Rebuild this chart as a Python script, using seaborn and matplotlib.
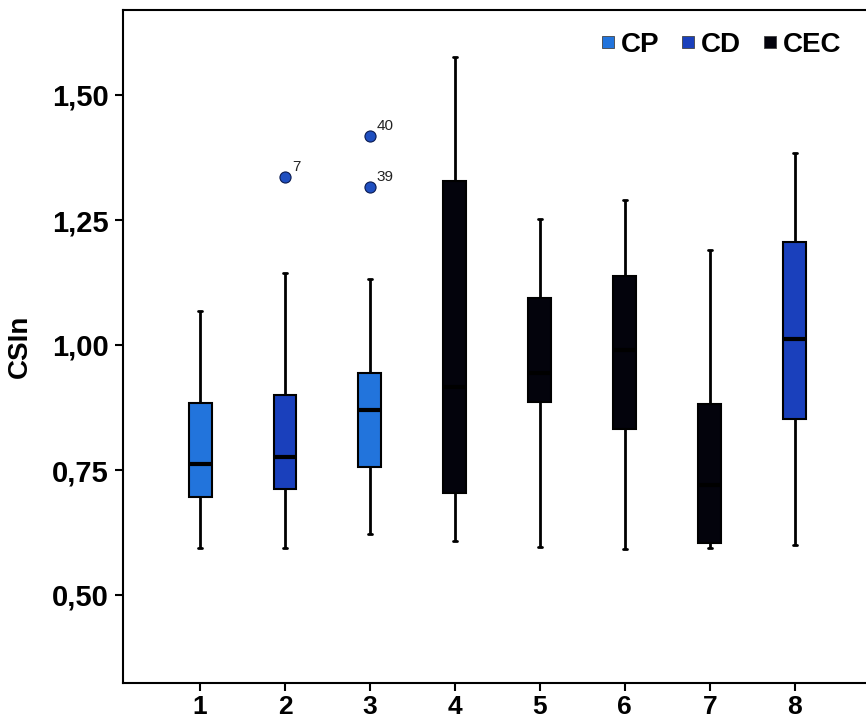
import numpy as np
import pandas as pd
import seaborn as sns
import matplotlib.pyplot as plt
from matplotlib.lines import Line2D

# ---- data ----
categories = ['1', '2', '3', '4', '5', '6', '7', '8']
groups = ['CP', 'CD', 'CP', 'CEC', 'CEC', 'CEC', 'CEC', 'CD']
whisker_low = [0.594, 0.594, 0.622, 0.608, 0.596, 0.592, 0.594, 0.600]
q1 = [0.696, 0.712, 0.756, 0.704, 0.886, 0.832, 0.604, 0.852]
median = [0.762, 0.776, 0.870, 0.916, 0.944, 0.990, 0.720, 1.012]
q3 = [0.884, 0.900, 0.944, 1.329, 1.094, 1.139, 0.882, 1.206]
whisker_high = [1.068, 1.144, 1.132, 1.576, 1.252, 1.290, 1.190, 1.384]

outlier_cat = ['2', '3', '3']
outlier_val = [1.336, 1.418, 1.316]
outlier_label = ['7', '40', '39']

group_names = ['CP', 'CD', 'CEC']
group_colors = {'CP': '#2274dc', 'CD': '#1a40bc', 'CEC': '#03030c'}
yticks = [0.50, 0.75, 1.00, 1.25, 1.50]

# five-number summaries as samples -> exact quartiles with whis=(0,100)
rows = []
for c, g, a, b, m, d, e in zip(categories, groups, whisker_low, q1, median, q3, whisker_high):
    for v in (a, b, m, d, e):
        rows.append({'cat': c, 'group': g, 'val': v})
df = pd.DataFrame(rows)

sns.set_style('white')
plt.rcParams['font.family'] = ['Liberation Sans', 'DejaVu Sans']
plt.rcParams['text.color'] = 'black'
plt.rcParams['axes.labelcolor'] = 'black'
plt.rcParams['xtick.color'] = 'black'
plt.rcParams['ytick.color'] = 'black'

fig = plt.figure(figsize=(8.66, 7.21), dpi=100)
ax = fig.add_axes([123 / 866, 1 - 683 / 721, (866 - 123) / 866, (683 - 10) / 721])

sns.boxplot(data=df, x='cat', y='val', hue='group', order=categories,
            hue_order=group_names, palette=group_colors, dodge=False,
            saturation=1, width=0.27, whis=(0, 100), linecolor='black',
            linewidth=1.5, fliersize=0, legend=False, ax=ax,
            medianprops={'linewidth': 3.0, 'color': 'black'},
            whiskerprops={'linewidth': 2.0},
            capprops={'linewidth': 2.0},
            capwidths=0.05)

sns.stripplot(x=outlier_cat, y=outlier_val, order=categories, jitter=False,
              color='#1f4fc0', size=8, edgecolor='#0a1a50', linewidth=0.8,
              ax=ax, zorder=5)

for c, v, lab in zip(outlier_cat, outlier_val, outlier_label):
    ax.annotate(lab, (categories.index(c), v), xytext=(5, 4),
                textcoords='offset points', fontsize=11, color='#222222')

ax.set_xlim(-0.907, 7.84)
ax.set_ylim(0.324, 1.67)
ax.set_yticks(yticks)
ax.set_yticklabels([f'{t:.2f}'.replace('.', ',') for t in yticks])
ax.set_xlabel('')
ax.set_ylabel('CSIn', fontsize=20, fontweight='bold', labelpad=14)
ax.tick_params(axis='both', which='both', direction='out', length=6, width=1.5,
               color='black', labelcolor='black', bottom=True, left=True)
ax.tick_params(axis='y', labelsize=21, pad=4)
ax.tick_params(axis='x', labelsize=19, pad=3)
for lbl in ax.get_xticklabels() + ax.get_yticklabels():
    lbl.set_fontweight('bold')

for s in ['left', 'bottom', 'top']:
    ax.spines[s].set_visible(True)
    ax.spines[s].set_color('black')
    ax.spines[s].set_linewidth(1.5)
ax.spines['right'].set_visible(False)

handles = [Line2D([], [], marker='s', linestyle='', markersize=8,
                  markerfacecolor=group_colors[g], markeredgecolor='#444444',
                  markeredgewidth=0.6) for g in group_names]
leg = ax.legend(handles, group_names, loc='upper right', ncol=3,
                bbox_to_anchor=(1.0, 1.005), frameon=False, handletextpad=0.0,
                columnspacing=0.6, handlelength=0.9,
                prop={'size': 20, 'weight': 'bold'})

fig.savefig('out.png', dpi=100)
